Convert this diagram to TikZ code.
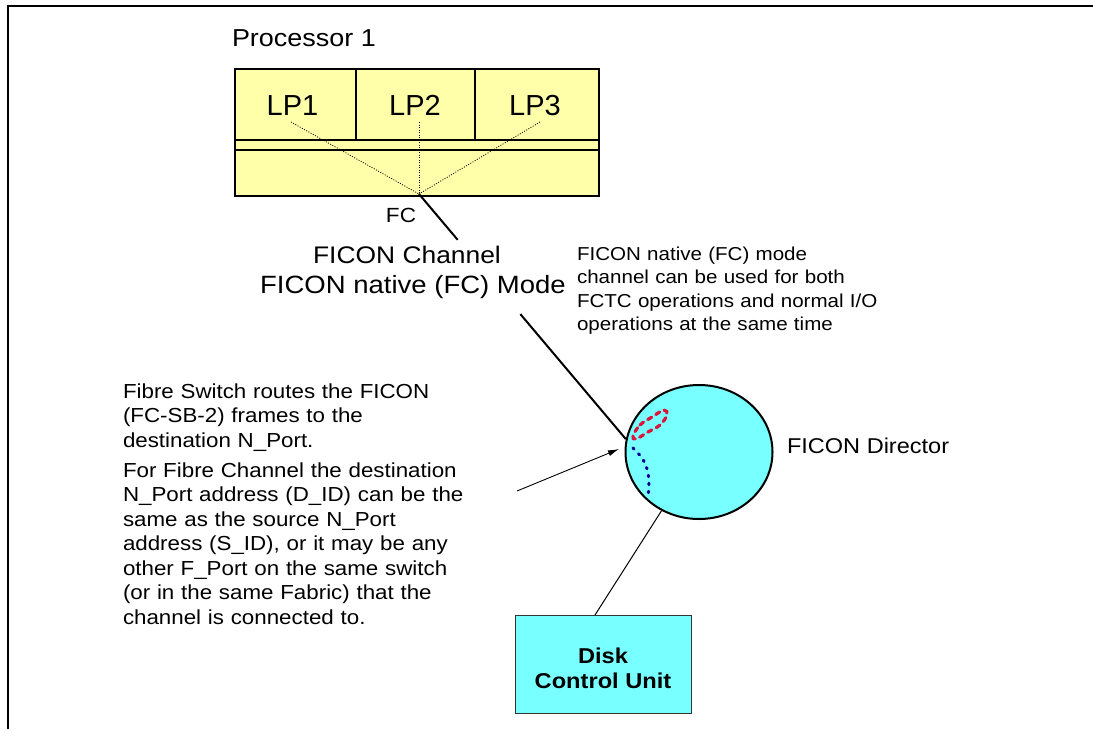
\documentclass[tikz,border=0pt]{standalone}
\usepackage{fontspec}
\setmainfont{Liberation Sans}[FakeStretch=1.1]
\newfontfamily\lpfont{Liberation Sans}
\usetikzlibrary{arrows.meta,shapes.geometric,calc}
\definecolor{procyellow}{RGB}{255,255,170}
\definecolor{dircyan}{RGB}{120,255,255}
\definecolor{loopred}{RGB}{220,20,60}
\definecolor{pathblue}{RGB}{0,0,150}
\newcommand{\fsz}[2]{\fontsize{#1}{#2}\selectfont}
\begin{document}
\begin{tikzpicture}[x=1pt,y=-1pt,
  txt/.style={inner sep=0pt, outer sep=0pt},
  para/.style={txt, text width=#1, align=left, anchor=base west},
  dotline/.style={line width=0.8pt, dash pattern=on 1pt off 1.5pt},
  thinline/.style={line width=1.2pt},
  cyanbox/.style={draw=black!80, line width=1pt, fill=dircyan, inner sep=0pt}]
\useasboundingbox (0,0) rectangle (1093,729);
\fill[white] (0,0) rectangle (1093,729);
% page frame
\draw[line width=1.5pt] (8,729) -- (8,6) -- (1093,6);

% Processor box
\node[txt, anchor=base west, font=\fsz{24.5}{29}] (ptitle) at (232,46) {Processor 1};
\node[draw, line width=2.4pt, fill=procyellow, minimum width=364pt, minimum height=127pt,
      inner sep=0pt, anchor=north west] (proc) at (234,68) {};
\draw[thinline] (356,68) -- (356,140);
\draw[thinline] (475,68) -- (475,140);
\draw[thinline] (234,140) -- (598,140);
\draw[thinline] (234,150) -- (598,150);
\node[txt, anchor=base, font=\lpfont\fsz{29}{34}] (lp1) at (292.5,115) {LP1};
\node[txt, anchor=base, font=\lpfont\fsz{29}{34}] (lp2) at (415,115) {LP2};
\node[txt, anchor=base, font=\lpfont\fsz{29}{34}] (lp3) at (535,115) {LP3};
\coordinate (lp1d) at (291,122);
\coordinate (lp2d) at (419,122);
\coordinate (lp3d) at (540,122);
\coordinate (fc) at (419,194);
\draw[dotline] (lp1d) -- (fc);
\draw[dotline] (lp2d) -- (fc);
\draw[dotline] (lp3d) -- (fc);
\node[txt, anchor=base, font=\fsz{20.5}{24}] (fclbl) at (401,222) {FC};

% FICON Director
\node[ellipse, draw, line width=2pt, fill=dircyan, minimum width=147pt, minimum height=134pt,
      inner sep=0pt] (circ) at (699,452) {};
\draw[loopred, line width=3.2pt, dash pattern=on 4.5pt off 5pt, line cap=round]
  plot[smooth cycle, tension=0.6] coordinates {(633,436) (640,425) (652,417) (664,410) (667,415) (660,425) (648,432) (636,439)};
\draw[pathblue, line width=3pt, dash pattern=on 1.5pt off 6.5pt, line cap=round]
  plot[smooth, tension=0.6] coordinates {(633,448) (642,458) (647,469) (649,482) (648,497)};
\node[txt, anchor=base west, font=\fsz{21.4}{26}] (dirlbl) at (787,453) {FICON Director};

% FICON channel line
\draw[line width=2pt] (fc) -- ($(fc)!0.187!(circ.170)$) ($(fc)!0.49!(circ.170)$) -- (circ.170);
\node[txt, anchor=base, font=\fsz{24}{29}] (chan1) at (407,263) {FICON Channel};
\node[txt, anchor=base, font=\fsz{25}{30}] (chan2) at (413,293) {FICON native (FC) Mode};

% right note
\node[para=320pt, font=\fsz{18.7}{23.5}] (note) at (577,260)
  {FICON native (FC) mode\\channel can be used for both\\FCTC operations and normal I/O\\operations at the same time};

% left notes
\node[para=420pt, font=\fsz{20.3}{24.5}] (left1) at (123,398)
  {Fibre Switch routes the FICON\\(FC-SB-2) frames to the\\destination N\_Port.};
\node[para=420pt, font=\fsz{20.3}{24.5}] (left2) at (123,477)
  {For Fibre Channel the destination\\N\_Port address (D\_ID) can be the\\same as the source N\_Port\\address (S\_ID), or it may be any\\other F\_Port on the same switch\\(or in the same Fabric) that the\\channel is connected to.};
\coordinate (astart) at (517,491);
\coordinate (aend) at (619,449);
\draw[line width=0.9pt, -{Latex[length=11pt,width=6pt]}] (astart) -- (aend);

% Disk control unit
\node[cyanbox, minimum width=176pt, minimum height=98pt, anchor=north west] (disk) at (515,615) {};
\node[txt, align=center, font=\bfseries\fsz{21.5}{25}] (disktxt) at (603,668) {Disk\\Control Unit};
\coordinate (dtop) at (595,615);
\draw[line width=1pt] (circ) -- (dtop);
\end{tikzpicture}
\end{document}
